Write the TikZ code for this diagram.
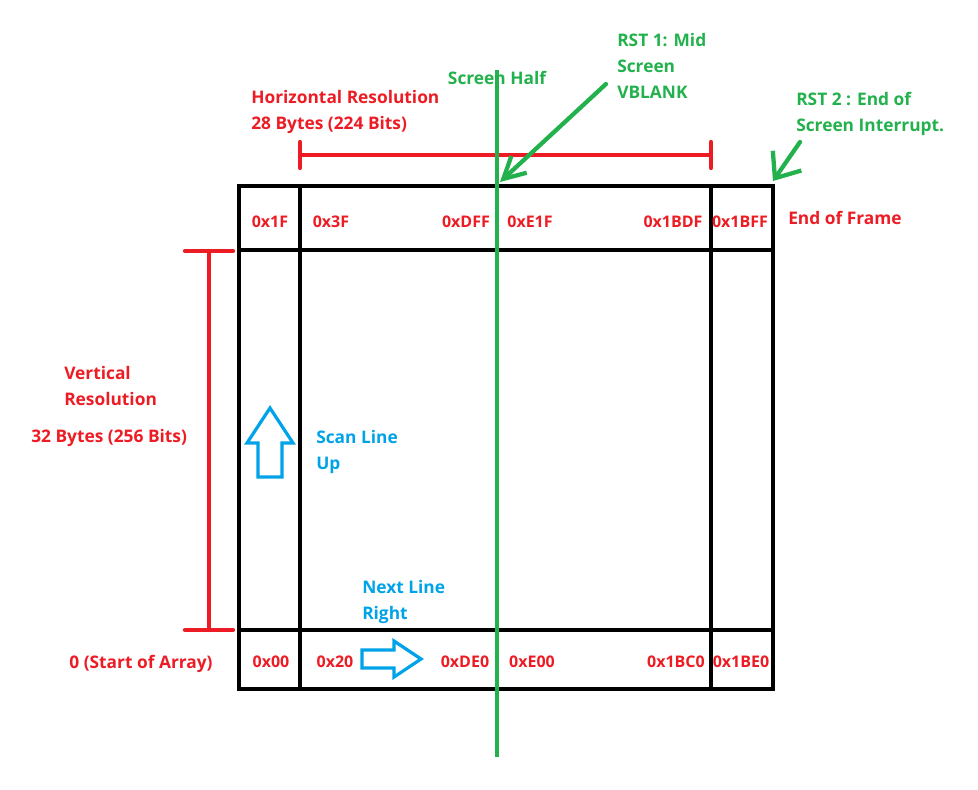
\documentclass[tikz,border=0pt]{standalone}
\usepackage{fontspec}
\setmainfont{Open Sans}
\usepackage{tikz}
\usetikzlibrary{arrows.meta}
\definecolor{paintred}{HTML}{ED1C24}
\definecolor{paintgreen}{HTML}{22B14C}
\definecolor{paintblue}{HTML}{00A2E8}

\begin{document}
\begin{tikzpicture}[x=0.75pt, y=-0.75pt, font=\bfseries\fontsize{13}{19.5}\selectfont,
      grid/.style={line width=3.6pt, black},
      dimline/.style={line width=3.2pt, paintred, line cap=round},
      halfline/.style={line width=3.2pt, paintgreen},
      pointer/.style={line width=3.2pt, paintgreen, line cap=round},
      blockarrow/.style={line width=2.4pt, paintblue, line join=miter},
      hex/.style={text=paintred, anchor=base, inner sep=0pt, font=\bfseries\fontsize{12}{14}\selectfont},
      redtxt/.style={text=paintred, align=left, anchor=base west, inner sep=0pt},
      greentxt/.style={text=paintgreen, align=left, anchor=base west, inner sep=0pt},
      bluetxt/.style={text=paintblue, align=left, anchor=base west, inner sep=0pt}]
    \useasboundingbox (0,0) rectangle (978,789);

    % frame buffer grid
    \draw[grid] (239,186) rectangle (773,689);
    \draw[grid] (239,250) -- (773,250);
    \draw[grid] (239,630) -- (773,630);
    \draw[grid] (300,186) -- (300,689);
    \draw[grid] (711,186) -- (711,689);

    % resolution markers
    \draw[dimline] (300,155) -- (711,155);
    \draw[dimline] (300,142) -- (300,168);
    \draw[dimline] (711,142) -- (711,168);
    \draw[dimline] (209,251) -- (209,630);
    \draw[dimline] (185,251) -- (233,251);
    \draw[dimline] (185,630) -- (233,630);

    % screen half
    \draw[halfline] (497,70) -- (497,757);
    \node[text=paintgreen, anchor=base, inner sep=0pt] (half) at (497,84) {Screen Half};

    % interrupts (base = last line)
    \node[greentxt] (rst1) at (617,98) {RST 1: Mid\\Screen\\VBLANK};
    \node[greentxt] (rst2) at (796,131) {RST 2 : End of\\Screen Interrupt.};
    \coordinate (rst1from) at (606,84);
    \coordinate (rst1to) at (500,182);
    \coordinate (rst2from) at (800,142);
    \coordinate (rst2to) at (773,181);
    \draw[pointer, -{Straight Barb[length=16pt, width=17pt]}] (rst1from) -- (rst1to);
    \draw[pointer, -{Straight Barb[length=16pt, width=26pt]}] (rst2from) -- (rst2to);

    % labels
    \node[redtxt] (hres) at (251,129) {Horizontal Resolution\\28 Bytes (224 Bits)};
    \node[redtxt] (vres) at (64,405) {Vertical\\Resolution};
    \node[redtxt] (vbytes) at (31,442) {32 Bytes (256 Bits)};
    \node[redtxt] (eof) at (788,224) {End of Frame};
    \node[text=paintred, anchor=base, inner sep=0pt] (start) at (141,668) {0 (Start of Array)};

    % top row
    \node[hex] (h1F)   at (270,227) {0x1F};
    \node[hex] (h3F)   at (331,227) {0x3F};
    \node[hex] (hDFF)  at (466,227) {0xDFF};
    \node[hex] (hE1F)  at (530,227) {0xE1F};
    \node[hex] (h1BDF) at (673,227) {0x1BDF};
    \node[hex] (h1BFF) at (740,227) {0x1BFF};

    % bottom row
    \node[hex] (h00)   at (271,667) {0x00};
    \node[hex] (h20)   at (335,667) {0x20};
    \node[hex] (hDE0)  at (465,667) {0xDE0};
    \node[hex] (hE00)  at (532,667) {0xE00};
    \node[hex] (h1BC0) at (676,667) {0x1BC0};
    \node[hex] (h1BE0) at (741,667) {0x1BE0};

    % scan direction
    \draw[blockarrow] (270,408) -- (293,443) -- (282,443) -- (282,477) -- (258,477) -- (258,443) -- (247,443) -- cycle;
    \node[bluetxt] (scan) at (316,469) {Scan Line\\Up};
    \draw[blockarrow] (421,659) -- (394,641) -- (394,650) -- (362,650) -- (362,668) -- (394,668) -- (394,677) -- cycle;
    \node[bluetxt] (next) at (362,619) {Next Line\\Right};
  \end{tikzpicture}
\end{document}
